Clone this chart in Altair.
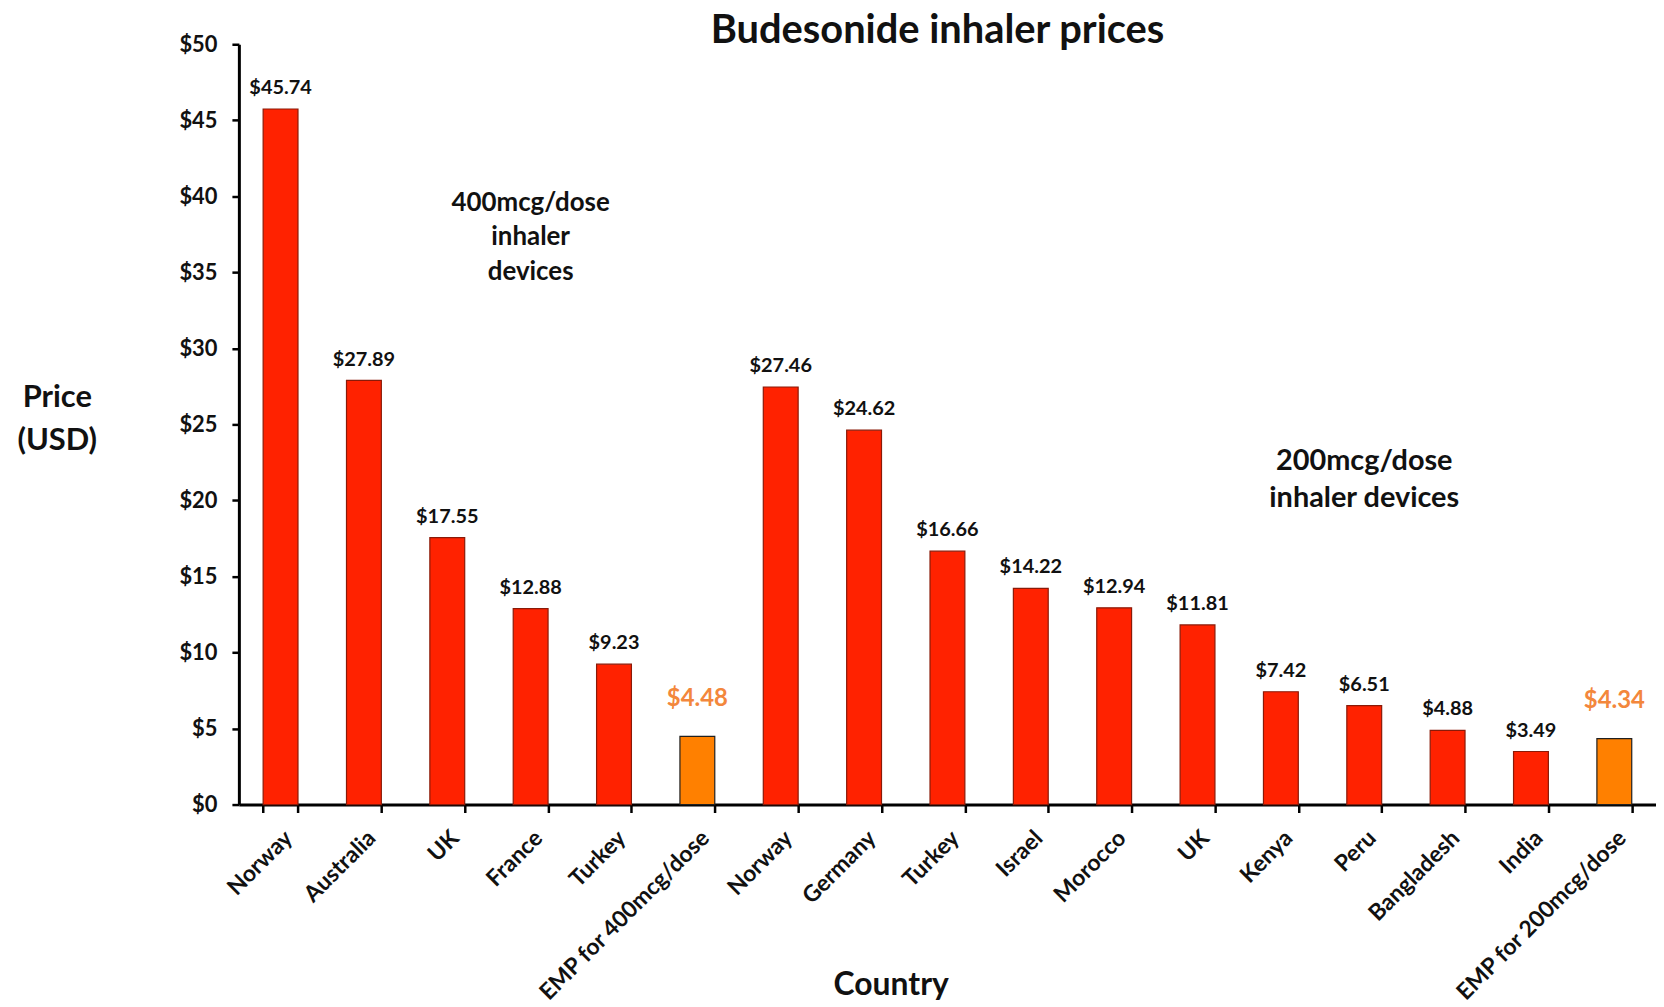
import altair as alt
import pandas as pd

countries = ["Norway", "Australia", "UK", "France", "Turkey", "EMP for 400mcg/dose",
             "Norway", "Germany", "Turkey", "Israel", "Morocco", "UK", "Kenya", "Peru",
             "Bangladesh", "India", "EMP for 200mcg/dose"]
prices = [45.74, 27.89, 17.55, 12.88, 9.23, 4.48,
          27.46, 24.62, 16.66, 14.22, 12.94, 11.81, 7.42, 6.51, 4.88, 3.49, 4.34]
is_emp = [False, False, False, False, False, True,
          False, False, False, False, False, False, False, False, False, False, True]

RED = "#FF2200"
ORANGE = "#FF8000"
ORANGE_TEXT = "#F3873C"
FONT = "Lato"

df = pd.DataFrame({
    "id": list(range(len(countries))),
    "country": countries,
    "price": prices,
    "emp": is_emp,
})
df["fill"] = [ORANGE if e else RED for e in is_emp]
df["stroke"] = ["#202020" if e else "#8a1a08" for e in is_emp]
df["label"] = ["$" + format(p, ".2f") for p in prices]

note_ids = [3, 13]
note_y = [40.4, 23.5]
note_text = [["400mcg/dose", "inhaler", "devices"], ["200mcg/dose", "inhaler devices"]]
ann = pd.DataFrame({"id": note_ids, "y": note_y, "text": note_text})

label_expr = "[" + ",".join('"' + c + '"' for c in countries) + "][datum.value]"

x = alt.X("id:O", sort=None,
          scale=alt.Scale(paddingInner=0.582, paddingOuter=0.291),
          axis=alt.Axis(title="Country", labelExpr=label_expr, labelAngle=-45,
                        labelFont=FONT, labelFontWeight="bold", labelFontSize=23,
                        labelColor="#111", labelPadding=14, labelLimit=500,
                        tickBand="extent", tickSize=8, tickWidth=2.5, tickColor="black",
                        domainColor="black", domainWidth=3,
                        titleFont=FONT, titleFontWeight="bold", titleFontSize=32,
                        titleColor="#111", titleX=655, titleY=181,
                        titleBaseline="middle"))
y = alt.Y("price:Q", scale=alt.Scale(domain=[0, 50], nice=False),
          axis=alt.Axis(values=list(range(0, 55, 5)), labelExpr="'$' + datum.value",
                        grid=False, labelFont=FONT, labelFontWeight="bold",
                        labelFontSize=22, labelColor="#111", labelPadding=15,
                        tickSize=7, tickWidth=2.5, tickColor="black",
                        domainColor="black", domainWidth=3,
                        title=["Price", "(USD)"], titleAngle=0, titleFont=FONT,
                        titleFontWeight="bold", titleFontSize=31, titleColor="#111",
                        titleAlign="center", titleBaseline="top",
                        titleX=-183, titleY=340, titleLineHeight=43))

base = alt.Chart(df)

bars = base.mark_bar(strokeWidth=1.2).encode(
    x=x, y=y,
    fill=alt.Fill("fill:N", scale=None),
    stroke=alt.Stroke("stroke:N", scale=None),
)

labels = base.transform_filter("!datum.emp").mark_text(
    font=FONT, fontWeight="bold", fontSize=20, color="#111", baseline="middle", dy=-21
).encode(x=x, y=y, text="label:N")

emp_labels = base.transform_filter("datum.emp").mark_text(
    font=FONT, fontWeight="bold", fontSize=24, color=ORANGE_TEXT, baseline="middle", dy=-38
).encode(x=x, y=y, text="label:N")

notes_a = alt.Chart(ann.iloc[[0]]).mark_text(
    font=FONT, fontWeight="bold", color="#111", baseline="top", align="center",
    fontSize=26, lineHeight=34.5
).encode(x=alt.X("id:O"), y=alt.Y("y:Q"), text="text")

notes_b = alt.Chart(ann.iloc[[1]]).mark_text(
    font=FONT, fontWeight="bold", color="#111", baseline="top", align="center",
    fontSize=29, lineHeight=37.5
).encode(x=alt.X("id:O"), y=alt.Y("y:Q"), text="text")

chart = alt.layer(bars, labels, emp_labels, notes_a, notes_b).properties(
    width=1424, height=764,
    background="white",
    title=alt.TitleParams("Budesonide inhaler prices", font=FONT, fontSize=40,
                          fontWeight="bold", color="#111", anchor="middle",
                          dx=-10, dy=24, offset=6),
    autosize=alt.AutoSizeParams(type="none"),
    padding={"left": 232, "top": 34, "right": 0, "bottom": 200},
).configure_view(stroke="transparent", strokeWidth=0)

chart.save("out.html", embed_options={"renderer": "svg", "actions": False})
